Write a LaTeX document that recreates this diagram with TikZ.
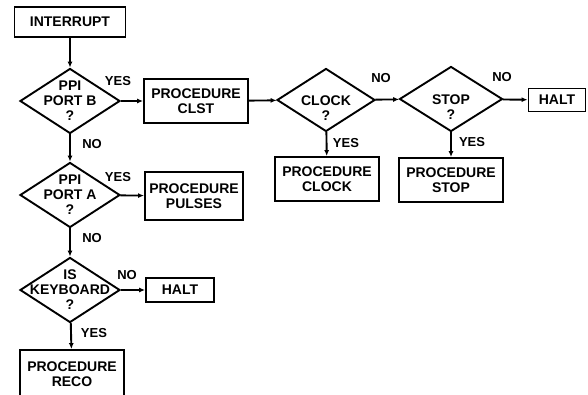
\documentclass[tikz,border=0pt]{standalone}
\usepackage{fontspec}
\setmainfont{Liberation Sans}
\usetikzlibrary{arrows.meta,positioning,shapes.geometric}

\begin{document}
\begin{tikzpicture}[x=1pt, y=-1pt, font=\fontsize{14}{15}\selectfont\bfseries,
  line width=1.9pt,
  procbox/.style={draw, minimum width=104pt, minimum height=44pt, align=center, inner sep=1pt},
  decision/.style={draw, diamond, inner sep=-14pt, minimum width=100pt, minimum height=65pt,
    align=center},
  tag/.style={inner sep=0pt, font=\fontsize{13}{14}\selectfont\bfseries},
  flow/.style={-{Latex[length=6pt,width=5pt]}}]
  \useasboundingbox (0,0) rectangle (588,395);
  % main column
  \node[draw, minimum width=111pt, minimum height=30pt] (I1) at (70,22) {INTERRUPT};
  \node[decision] (D1) at (70,101) {PPI\\PORT B\\?};
  \node[decision] (D2) at (70,195) {PPI\\PORT A\\?};
  \node[decision] (D3) at (70,290) {IS\\KEYBOARD\\?};
  \node[procbox, minimum height=48pt] (P5) at (72,374) {PROCEDURE\\RECO};
  % top row
  \node[procbox] (P1) at (196,101) {PROCEDURE\\CLST};
  \node[decision, minimum width=98pt, minimum height=63pt] (D4) at (326,100) {\rule{0pt}{26pt}CLOCK\\?};
  \node[decision, minimum width=103pt] (D5) at (451,99) {\rule{0pt}{26pt}STOP\\?};
  \node[draw, minimum width=57pt, minimum height=23pt, inner sep=1pt] (H1) at (557,100) {HALT};
  \node[procbox] (P3) at (327,179) {PROCEDURE\\CLOCK};
  \node[procbox] (P4) at (451,180) {PROCEDURE\\STOP};
  % side branches
  \node[procbox, minimum width=98pt, minimum height=48pt] (P2) at (194,196) {PROCEDURE\\PULSES};
  \node[draw, minimum width=68pt, minimum height=24pt, inner sep=1pt] (H2) at (180,290) {HALT};

  \draw[flow] (I1) -- (D1);
  \draw[flow] (D1) -- (P1);
  \draw[flow] (D1) -- (D2);
  \draw[flow] (D2) -- (P2);
  \draw[flow] (D2) -- (D3);
  \draw[flow] (D3) -- (H2);
  \draw[flow] (D3) -- (P5);
  \draw[flow] (P1) -- (D4);
  \draw[flow] (D4) -- (D5);
  \draw[flow] (D4) -- (P3);
  \draw[flow] (D5) -- (H1);
  \draw[flow] (D5) -- (P4);

  \node[tag] (Y1) at (118,81) {YES};
  \node[tag] (N1) at (92,144) {NO};
  \node[tag] (Y2) at (118,177) {YES};
  \node[tag] (N2) at (92,238) {NO};
  \node[tag] (N3) at (127,275) {NO};
  \node[tag] (Y3) at (94,333) {YES};
  \node[tag] (N4) at (381,78) {NO};
  \node[tag] (Y4) at (346,143) {YES};
  \node[tag] (N5) at (502,77) {NO};
  \node[tag] (Y5) at (472,142) {YES};
\end{tikzpicture}
\end{document}
